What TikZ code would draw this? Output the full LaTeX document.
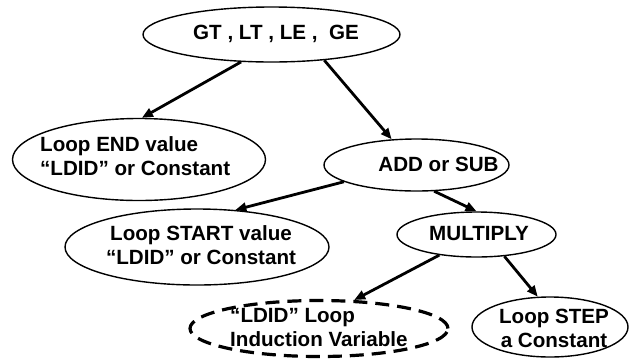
\documentclass[tikz,border=0pt]{standalone}
\usepackage{fontspec}
\setmainfont{Liberation Sans}
\usetikzlibrary{shapes.geometric,arrows.meta}
\begin{document}
\begin{tikzpicture}[x=1bp,y=-1bp,
  oval/.style={ellipse, draw, line width=1.4bp, inner sep=0pt},
  dashoval/.style={ellipse, draw, line width=3.2bp, dash pattern=on 14bp off 8bp, inner sep=0pt},
  lbl/.style={font=\fontsize{20.6bp}{24bp}\selectfont\bfseries, inner sep=0pt},
  arr/.style={line width=2.8bp, -{Triangle[length=11bp,width=9bp]}}]
\useasboundingbox (0,0) rectangle (629,358);
% ellipses
\node[oval, minimum width=257bp, minimum height=55bp] (n1) at (271.5,34.5) {};
\node[oval, minimum width=253bp, minimum height=82bp] (n2) at (139,159.5) {};
\node[oval, minimum width=185bp, minimum height=52bp] (n3) at (416.5,165) {};
\node[oval, minimum width=264bp, minimum height=76bp] (n4) at (197,247) {};
\node[oval, minimum width=159bp, minimum height=45bp] (n5) at (476.5,234.5) {};
\node[dashoval, minimum width=258bp, minimum height=56bp] (n6) at (319,328.5) {};
\node[oval, minimum width=156bp, minimum height=60bp] (n7) at (550,327) {};
% texts
\node[lbl] (t1) at (276,34) {GT , LT , LE ,\ \ GE};
\node[lbl, align=left, anchor=west] (t2) at (40,156) {Loop END value\\“LDID” or Constant};
\node[lbl] (t3) at (438.5,164) {ADD or SUB};
\node[lbl, align=center] (t4) at (201,245) {Loop START value\\“LDID” or Constant};
\node[lbl] (t5) at (479,234) {MULTIPLY};
\node[lbl, align=left, anchor=west] (t6) at (230,328) {“LDID” Loop\\Induction Variable};
\node[lbl, align=center] (t7) at (554,328) {Loop STEP\\a Constant};
% connectors
\draw[arr] (n1.222) -- (n2.86);
\draw[arr] (n1.334) -- (n3.134);
\draw[arr] (n3.193) -- (n4.44);
\draw[arr] (n3.304) -- (n5.90);
\draw[arr] (n5.209) -- (n6.39);
\draw[arr] (n5.322) -- (n7.112);
\end{tikzpicture}
\end{document}
